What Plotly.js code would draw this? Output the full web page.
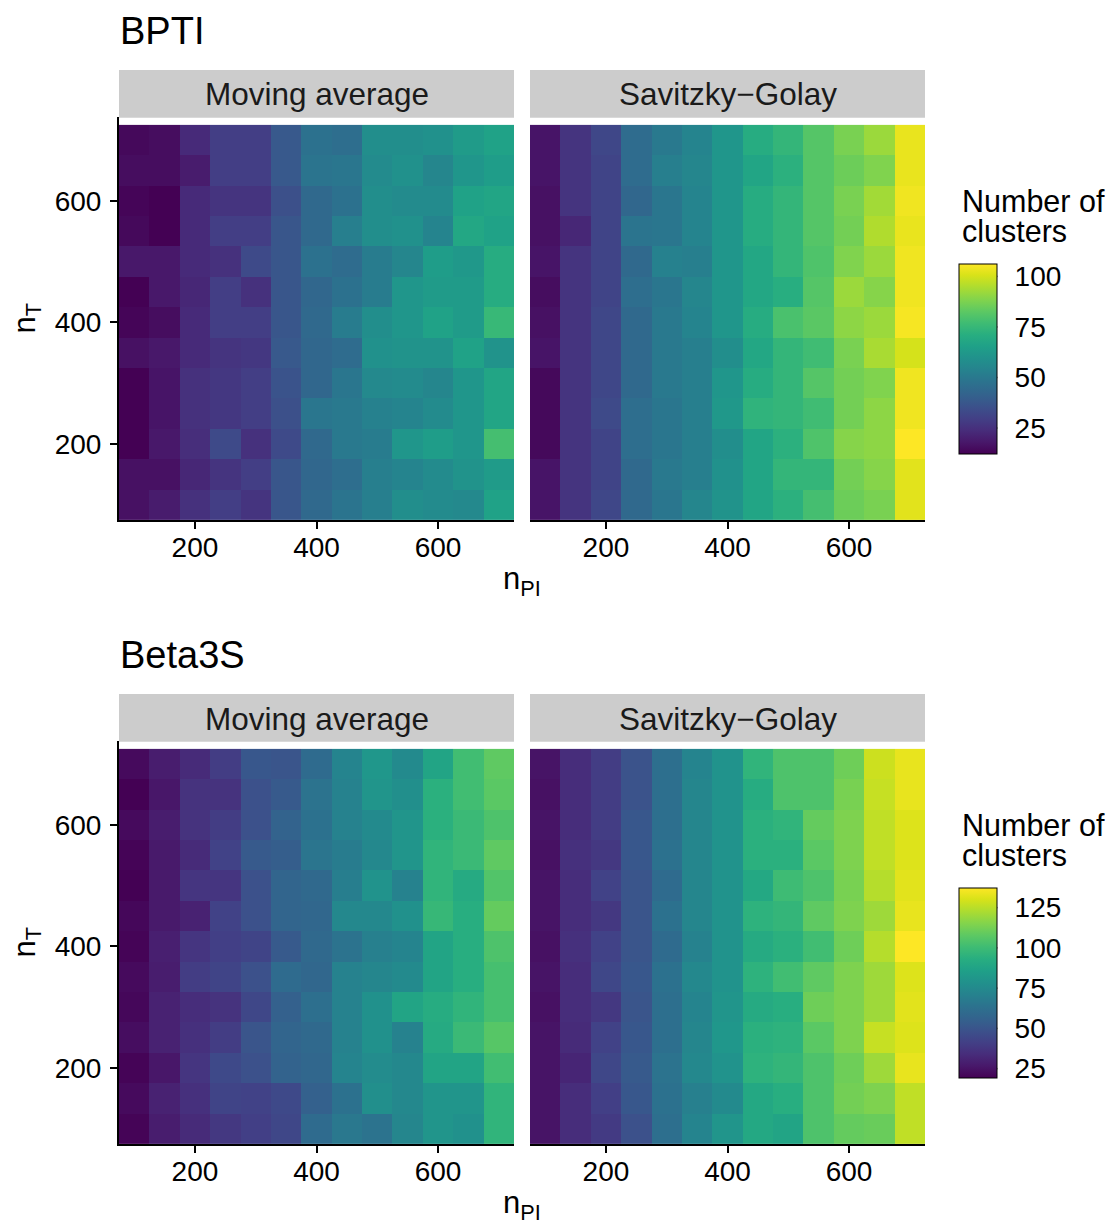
<!DOCTYPE html>
<html><head><meta charset="utf-8">
<script src="https://cdn.plot.ly/plotly-3.0.1.min.js"></script>
<style>html,body{margin:0;padding:0;background:#fff}#chart{width:1114px;height:1222px}</style>
</head><body><div id="chart"></div>
<script>
// ---- data ----
const nPI = [100,150,200,250,300,350,400,450,500,550,600,650,700];
const nT  = [700,650,600,550,500,450,400,350,300,250,200,150,100];
const axisTicks = [200,400,600];
const axisTickText = ['200','400','600'];
const panels = ['Moving average','Savitzky\u2212Golay'];
const proteins = ['BPTI','Beta3S'];
const cbTicksBPTI = [25,50,75,100];
const cbTicksBeta3S = [25,50,75,100,125];

// rows from nT = 700 (top) down to nT = 100 (bottom)
const BPTI_MA = [
 [14,15,23,29,29,38,47,46,58,58,59,63,66],
 [15,15,19,29,29,38,48,49,57,59,55,61,64],
 [13,12,23,26,26,35,44,47,58,57,57,66,67],
 [14,12,23,29,29,37,44,52,58,59,54,68,66],
 [18,18,23,25,33,37,47,45,51,55,64,62,70],
 [12,18,22,29,25,37,43,47,51,61,63,63,70],
 [13,15,23,29,29,37,44,51,58,61,66,63,75],
 [16,18,23,26,27,38,43,45,59,60,60,66,60],
 [12,17,25,27,29,36,43,49,56,57,55,61,67],
 [12,17,25,27,29,35,49,50,53,54,57,61,67],
 [12,18,24,33,25,33,44,50,51,61,64,61,78],
 [16,16,22,26,29,37,43,46,52,54,57,60,63],
 [16,19,25,29,26,37,44,48,52,58,57,56,66]
];
const BPTI_SG = [
 [17,26,32,45,50,54,61,70,74,81,87,92,103],
 [17,26,31,45,52,55,61,67,72,81,85,88,103],
 [16,26,31,43,49,54,61,70,74,81,87,93,104],
 [16,22,31,48,49,54,61,70,74,81,86,95,103],
 [17,26,31,44,53,52,61,68,74,80,88,92,104],
 [15,26,31,46,49,55,61,68,71,81,92,89,104],
 [16,26,32,44,50,54,61,70,79,82,90,92,105],
 [17,26,32,44,50,52,58,68,74,77,87,94,100],
 [14,26,32,44,50,52,61,70,74,81,86,88,104],
 [14,26,33,46,49,52,62,73,74,77,86,90,104],
 [14,26,31,46,49,52,58,67,72,80,89,90,106],
 [17,26,31,44,50,52,59,67,74,74,86,89,102],
 [17,26,32,44,49,55,60,67,72,78,85,87,102]
];
const BETA_MA = [
 [22,28,33,40,51,50,60,72,81,75,88,101,108],
 [19,26,36,36,48,52,64,71,80,77,94,101,107],
 [22,28,36,40,48,56,63,71,75,80,94,99,104],
 [20,27,33,42,52,54,65,68,74,80,96,99,108],
 [19,27,37,37,48,57,59,69,79,71,96,91,105],
 [21,27,30,42,48,57,58,74,74,78,98,93,109],
 [20,29,37,41,43,52,59,64,70,72,88,93,104],
 [22,28,40,43,48,60,58,71,73,75,88,93,102],
 [21,30,34,36,44,55,62,71,78,88,92,96,102],
 [23,30,35,40,50,57,59,71,78,71,91,99,106],
 [20,26,37,45,48,56,58,72,76,74,88,88,101],
 [22,30,35,43,42,45,55,63,77,74,80,80,96],
 [20,28,33,38,41,44,60,66,64,73,80,78,96]
];
const BETA_SG = [
 [25,34,40,49,62,72,79,96,104,104,111,128,133],
 [24,34,40,49,62,73,79,92,104,104,113,127,133],
 [25,34,40,51,62,73,79,94,96,109,114,126,131],
 [24,35,38,51,63,73,79,94,94,107,114,126,131],
 [25,34,42,50,60,73,79,90,100,104,113,124,132],
 [25,34,38,50,63,73,79,95,97,108,114,120,133],
 [24,35,42,50,60,71,79,91,94,101,111,124,137],
 [25,34,44,51,63,74,79,95,101,108,114,120,131],
 [24,34,38,50,62,72,80,91,93,111,114,120,132],
 [25,33,42,51,62,73,81,94,95,107,114,127,131],
 [25,31,44,52,64,74,79,95,97,104,111,120,133],
 [25,34,41,51,63,70,75,90,93,104,112,114,126],
 [25,34,39,48,62,72,80,90,88,104,109,110,126]
];

// ---- geometry helpers ----
const W = 1114, H = 1222;
const px = v => v / W;
const py = v => 1 - v / H;
const FONT = 'Liberation Sans, Arial, Helvetica, sans-serif';
const ROW_OFF = [0, 624];
const PANEL_X = [[119, 514], [530, 925]];
const TILE_BOTTOM = 519.9, PANEL_TOP = 117;
const PXPERUNIT = 395 / 650;
const yTop = 75 + (TILE_BOTTOM - PANEL_TOP) / PXPERUNIT;

const allData = [[BPTI_MA, BPTI_SG], [BETA_MA, BETA_SG]];
const cbTicks = [cbTicksBPTI, cbTicksBeta3S];

const traces = [];
const layout = {
  width: W, height: H,
  margin: {l: 0, r: 0, t: 0, b: 0, pad: 0},
  paper_bgcolor: '#ffffff', plot_bgcolor: '#ffffff',
  font: {family: FONT, color: '#000000', size: 28},
  showlegend: false,
  shapes: [], annotations: []
};

const CB_LEN = 190, CB_THICK = 38, CB_X = 959.3, CB_TOP = 264.3;

for (let r = 0; r < 2; r++) {
  const off = ROW_OFF[r];
  const flat = allData[r][0].flat().concat(allData[r][1].flat());
  const cmin = Math.min(...flat), cmax = Math.max(...flat);
  const caName = r === 0 ? 'coloraxis' : 'coloraxis2';
  layout[caName] = {
    colorscale: 'Viridis', cmin: cmin, cmax: cmax,
    colorbar: {
      x: px(CB_X), xanchor: 'left', y: py(CB_TOP + off), yanchor: 'top',
      len: CB_LEN, lenmode: 'pixels', thickness: CB_THICK, thicknessmode: 'pixels',
      xpad: 0, ypad: 0, outlinewidth: 1, outlinecolor: '#000000',
      tickvals: cbTicks[r], ticktext: cbTicks[r].map(String),
      ticks: 'outside', ticklen: 12, tickwidth: 1, tickcolor: 'rgba(0,0,0,0)',
      tickfont: {family: FONT, size: 28, color: '#000000'},
      title: {text: ''}
    }
  };
  // tick marks drawn on both inner sides of the colour bar
  cbTicks[r].forEach(v => {
    const yy = CB_TOP + off + (cmax - v) / (cmax - cmin) * CB_LEN;
    layout.shapes.push({type: 'line', xref: 'paper', yref: 'paper',
      x0: px(CB_X), x1: px(CB_X + 7), y0: py(yy), y1: py(yy),
      line: {color: '#000000', width: 1.5}});
    layout.shapes.push({type: 'line', xref: 'paper', yref: 'paper',
      x0: px(CB_X + CB_THICK - 7), x1: px(CB_X + CB_THICK), y0: py(yy), y1: py(yy),
      line: {color: '#000000', width: 1.5}});
  });
  layout.annotations.push({xref: 'paper', yref: 'paper', x: px(960), y: py(200.6 + off),
    xanchor: 'left', yanchor: 'middle', text: 'Number of', showarrow: false,
    font: {family: FONT, size: 30.5, color: '#000000'}});
  layout.annotations.push({xref: 'paper', yref: 'paper', x: px(960), y: py(231 + off),
    xanchor: 'left', yanchor: 'middle', text: 'clusters', showarrow: false,
    font: {family: FONT, size: 30.5, color: '#000000'}});

  // protein title
  layout.annotations.push({xref: 'paper', yref: 'paper', x: px(118), y: py(30.7 + off),
    xanchor: 'left', yanchor: 'middle', text: proteins[r], showarrow: false,
    font: {family: FONT, size: 38, color: '#000000'}});

  // axis titles
  layout.annotations.push({xref: 'paper', yref: 'paper', x: px(522), y: py(581 + off),
    xanchor: 'center', yanchor: 'middle', text: 'n<sub>PI</sub>', showarrow: false,
    font: {family: FONT, size: 31, color: '#000000'}});
  layout.annotations.push({xref: 'paper', yref: 'paper', x: px(26), y: py(318.5 + off),
    xanchor: 'center', yanchor: 'middle', text: 'n<sub>T</sub>', textangle: -90, showarrow: false,
    font: {family: FONT, size: 31, color: '#000000'}});

  for (let c = 0; c < 2; c++) {
    const idx = r * 2 + c + 1;
    const xa = idx === 1 ? 'x' : 'x' + idx;
    const ya = idx === 1 ? 'y' : 'y' + idx;
    traces.push({
      type: 'heatmap', x: nPI, y: nT, z: allData[r][c],
      coloraxis: caName, xaxis: xa, yaxis: ya, hoverinfo: 'skip'
    });
    const xKey = idx === 1 ? 'xaxis' : 'xaxis' + idx;
    const yKey = idx === 1 ? 'yaxis' : 'yaxis' + idx;
    layout[xKey] = {
      domain: [px(PANEL_X[c][0]), px(PANEL_X[c][1])], range: [75, 725], anchor: ya,
      showline: true, linecolor: '#000000', linewidth: 2, mirror: false,
      ticks: 'outside', ticklen: 7, tickwidth: 2, tickcolor: '#000000',
      tickvals: axisTicks, ticktext: axisTickText, ticklabelstandoff: -6,
      tickfont: {family: FONT, size: 28, color: '#000000'},
      showgrid: false, zeroline: false, fixedrange: true, automargin: false
    };
    const yDomain = [py(TILE_BOTTOM + off), py(PANEL_TOP + off)];
    if (c === 0) {
      layout[yKey] = {
        domain: yDomain, range: [75, yTop], anchor: xa,
        showline: true, linecolor: '#000000', linewidth: 2,
        ticks: 'outside', ticklen: 7, tickwidth: 2, tickcolor: '#000000',
        tickvals: axisTicks, ticktext: axisTickText, ticklabelstandoff: 3,
        tickfont: {family: FONT, size: 28, color: '#000000'},
        showgrid: false, zeroline: false, fixedrange: true, automargin: false
      };
    } else {
      layout[yKey] = {
        domain: yDomain, range: [75, yTop], anchor: xa,
        showline: false, ticks: '', showticklabels: false,
        showgrid: false, zeroline: false, fixedrange: true, automargin: false
      };
    }
    // strip
    layout.shapes.push({type: 'rect', xref: 'paper', yref: 'paper', layer: 'below',
      x0: px(PANEL_X[c][0]), x1: px(PANEL_X[c][1]), y0: py(117.7 + off), y1: py(70 + off),
      fillcolor: '#cccccc', line: {width: 0}});
    layout.annotations.push({xref: 'paper', yref: 'paper',
      x: px((PANEL_X[c][0] + PANEL_X[c][1]) / 2), y: py(94.5 + off),
      xanchor: 'center', yanchor: 'middle', text: panels[c], showarrow: false,
      font: {family: FONT, size: 31.5, color: '#1a1a1a'}});
  }
}

Plotly.newPlot('chart', traces, layout, {staticPlot: true, displayModeBar: false});
</script>
</body></html>
